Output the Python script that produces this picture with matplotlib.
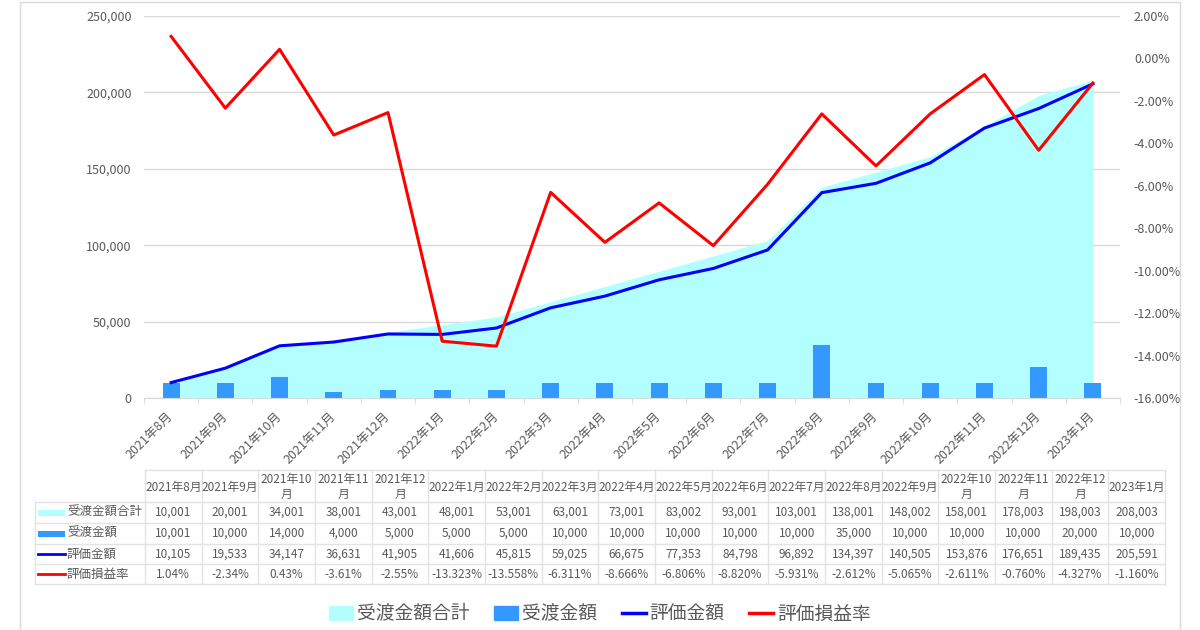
import numpy as np
import matplotlib
matplotlib.use('Agg')
from matplotlib import pyplot as plt
from matplotlib.patches import Rectangle, Patch
from matplotlib.lines import Line2D
from matplotlib.ticker import FuncFormatter, MultipleLocator

plt.rcParams['font.family'] = ['Noto Sans CJK JP', 'DejaVu Sans']

months = ['2021年8月', '2021年9月', '2021年10月', '2021年11月', '2021年12月',
          '2022年1月', '2022年2月', '2022年3月', '2022年4月', '2022年5月',
          '2022年6月', '2022年7月', '2022年8月', '2022年9月', '2022年10月',
          '2022年11月', '2022年12月', '2023年1月']
total = [10001, 20001, 34001, 38001, 43001, 48001, 53001, 63001, 73001,
         83002, 93001, 103001, 138001, 148002, 158001, 178003, 198003, 208003]
amount = [10001, 10000, 14000, 4000, 5000, 5000, 5000, 10000, 10000,
          10000, 10000, 10000, 35000, 10000, 10000, 10000, 20000, 10000]
value = [10105, 19533, 34147, 36631, 41905, 41606, 45815, 59025, 66675,
         77353, 84798, 96892, 134397, 140505, 153876, 176651, 189435, 205591]
rate = [1.04, -2.34, 0.43, -3.61, -2.55, -13.323, -13.558, -6.311, -8.666,
        -6.806, -8.820, -5.931, -2.612, -5.065, -2.611, -0.760, -4.327, -1.160]
series_names = ['受渡金額合計', '受渡金額', '評価金額', '評価損益率']

c_area = '#B3FFFF'
c_bar = '#3399FF'
c_blue = '#0000FF'
c_red = '#FF0000'
c_text = '#595959'
c_grid = '#D9D9D9'

W, H = 1200, 630
fig = plt.figure(figsize=(12, 6.3), dpi=100, facecolor='white')

# outer chart border
fig.patches.append(Rectangle((20 / W, -0.01), 1160 / W, 1 - 2 / H + 0.01,
                             transform=fig.transFigure, fill=False,
                             edgecolor=c_grid, linewidth=1))

x = np.arange(len(months))
ax = fig.add_axes([144 / W, 1 - 398 / H, (1120 - 144) / W, (398 - 16) / H])
ax.fill_between(x, 0, total, color=c_area, linewidth=0, zorder=1)
ax.bar(x, amount, width=0.31, color=c_bar, zorder=2)
ax.plot(x, value, color=c_blue, linewidth=2.2, zorder=3)
ax.set_xlim(-0.5, len(months) - 0.5)
ax.set_ylim(0, 250000)
ax.yaxis.set_major_locator(MultipleLocator(50000))
ax.yaxis.set_major_formatter(FuncFormatter(lambda v, p: f'{int(v):,}'))
ax.grid(axis='y', color=c_grid, linewidth=1, zorder=0)
ax.set_axisbelow(True)
for s in ['top', 'right', 'left']:
    ax.spines[s].set_visible(False)
ax.spines['bottom'].set_color(c_grid)
ax.tick_params(axis='y', length=0, pad=9, labelsize=9, labelcolor=c_text)
ax.set_xticks(x)
ax.set_xticklabels(months, rotation=45, ha='right', va='center',
                   rotation_mode='anchor')
ax.set_xticks(np.arange(len(months) + 1) - 0.5, minor=True)
ax.tick_params(axis='x', which='major', length=0, pad=12, labelsize=9,
               labelcolor=c_text)
ax.tick_params(axis='x', which='minor', length=4, color=c_grid)

ax2 = ax.twinx()
ax2.plot(x, rate, color=c_red, linewidth=2.2, zorder=4)
ax2.set_ylim(-16, 2)
ax2.yaxis.set_major_locator(MultipleLocator(2))
ax2.yaxis.set_major_formatter(FuncFormatter(lambda v, p: f'{v:.2f}%'))
for s in ax2.spines.values():
    s.set_visible(False)
ax2.tick_params(axis='y', length=0, pad=10, labelsize=9, labelcolor=c_text)

# data table under the chart (pixel coordinates)
tax = fig.add_axes([0, 0, 1, 1], zorder=-1)
tax.set_xlim(0, W)
tax.set_ylim(H, 0)
tax.axis('off')
x0, cw, lx0 = 145, 56.67, 35
x1 = x0 + cw * len(months)
rows_y = [470, 502, 523, 544, 564, 584]
lc = dict(color='#E3E3E3', linewidth=1)
tax.plot([x0, x1], [rows_y[0]] * 2, **lc)
for yy in rows_y[1:]:
    tax.plot([lx0, x1], [yy, yy], **lc)
tax.plot([lx0, lx0], [rows_y[1], rows_y[-1]], **lc)
for i in range(len(months) + 1):
    tax.plot([x0 + i * cw] * 2, [rows_y[0], rows_y[-1]], **lc)

tkw = dict(fontsize=8.5, color=c_text, ha='center', va='center')
for i, m in enumerate(months):
    cx = x0 + (i + 0.5) * cw
    if len(m) > 7:
        tax.text(cx, 479, m[:-1], **tkw)
        tax.text(cx, 494, m[-1], **tkw)
    else:
        tax.text(cx, 487, m, **tkw)
    cells = [f'{total[i]:,}', f'{amount[i]:,}', f'{value[i]:,}',
             f'{rate[i]:.2f}%' if i < 5 else f'{rate[i]:.3f}%']
    for r, s in enumerate(cells):
        tax.text(cx, (rows_y[r + 1] + rows_y[r + 2]) / 2, s, **tkw)

for r, name in enumerate(series_names):
    cy = (rows_y[r + 1] + rows_y[r + 2]) / 2
    if r < 2:
        tax.add_patch(Rectangle((38, cy - 3), 27, 6,
                                color=[c_area, c_bar][r], linewidth=0))
    else:
        tax.plot([38, 65], [cy, cy], color=[c_blue, c_red][r - 2], linewidth=2)
    tax.text(67, cy, name, fontsize=9, color=c_text, ha='left', va='center')

handles = [Patch(color=c_area), Patch(color=c_bar),
           Line2D([], [], color=c_blue, linewidth=2.5),
           Line2D([], [], color=c_red, linewidth=2.5)]
fig.legend(handles, series_names, loc='center', bbox_to_anchor=(0.5, 1 - 614 / H),
           ncol=4, frameon=False, fontsize=13.5, handlelength=1.3,
           handletextpad=0.2, columnspacing=1.3, labelcolor=c_text)

fig.savefig('out.png', dpi=100, facecolor='white')
